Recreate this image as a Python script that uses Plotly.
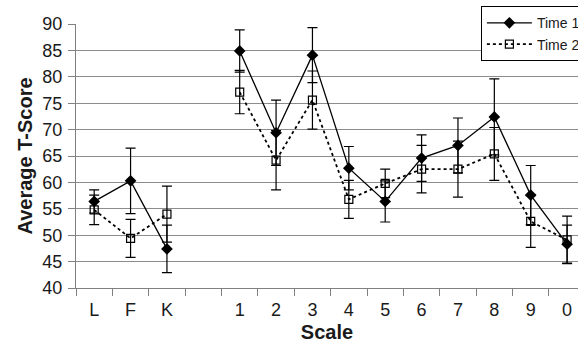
import plotly.graph_objects as go

categories = ["L", "F", "K", " ", "1", "2", "3", "4", "5", "6", "7", "8", "9", "0"]
time1 = [56.4, 60.3, 47.4, None, 84.9, 69.4, 84.1, 62.7, 56.4, 64.6, 67.0, 72.4, 57.6, 48.3]
time1_err = [2.2, 6.2, 4.5, None, 4.0, 6.2, 5.2, 4.1, 3.9, 4.4, 5.2, 7.2, 5.6, 3.6]
time2 = [54.8, 49.4, 54.0, None, 77.1, 64.2, 75.6, 56.8, 59.8, 62.5, 62.5, 65.4, 52.6, 49.1]
time2_err = [2.8, 3.6, 5.3, None, 4.1, 5.6, 5.5, 3.6, 2.7, 4.5, 5.3, 5.0, 4.9, 4.5]
y_ticks = [40, 45, 50, 55, 60, 65, 70, 75, 80, 85, 90]

FONT = "Liberation Sans, Arial, sans-serif"

fig = go.Figure()
fig.add_trace(go.Scatter(
    x=categories, y=time1, name="Time 1", mode="lines+markers",
    line=dict(color="black", width=1.3),
    marker=dict(symbol="diamond", size=9, color="black"),
    error_y=dict(type="data", array=time1_err, visible=True, color="black", thickness=1.2, width=5),
))
fig.add_trace(go.Scatter(
    x=categories, y=time2, name="Time 2", mode="lines+markers",
    line=dict(color="black", width=1.8, dash="dot"),
    marker=dict(symbol="square-open", size=8, color="black", line=dict(width=1.2)),
    error_y=dict(type="data", array=time2_err, visible=True, color="black", thickness=1.2, width=5),
))

fig.update_layout(
    width=578, height=348,
    margin=dict(l=76, r=0, t=24, b=60, autoexpand=False),
    paper_bgcolor="white", plot_bgcolor="white",
    font=dict(family=FONT, color="#1a1a1a", size=14),
    legend=dict(
        xref="container", yref="container", x=0.832, y=0.982, xanchor="left", yanchor="top",
        bgcolor="white", bordercolor="black", borderwidth=1,
        font=dict(size=14, family=FONT, color="#1a1a1a"),
        tracegroupgap=0, itemwidth=45,
    ),
    xaxis=dict(
        type="category", categoryorder="array", categoryarray=categories,
        range=[-0.5, 13.3], tickson="boundaries", ticks="outside", ticklen=7,
        tickcolor="#808080", showline=True, linecolor="#808080", linewidth=1,
        showgrid=False, tickfont=dict(size=18), ticklabelstandoff=5,
        title=dict(text="<b>Scale</b>", font=dict(size=20), standoff=6),
    ),
    yaxis=dict(
        range=[40, 90], tickvals=y_ticks, ticks="outside", ticklen=7,
        tickcolor="#808080", showline=True, linecolor="#808080", linewidth=1,
        showgrid=True, gridcolor="#8c8c8c", gridwidth=1, zeroline=False,
        tickfont=dict(size=18), ticklabelstandoff=2,
        title=dict(text="<b>Average T-Score</b>", font=dict(size=20), standoff=4),
    ),
)

fig.write_html("out.html", config={"displayModeBar": False},
               post_script="document.body.style.margin='0';")
